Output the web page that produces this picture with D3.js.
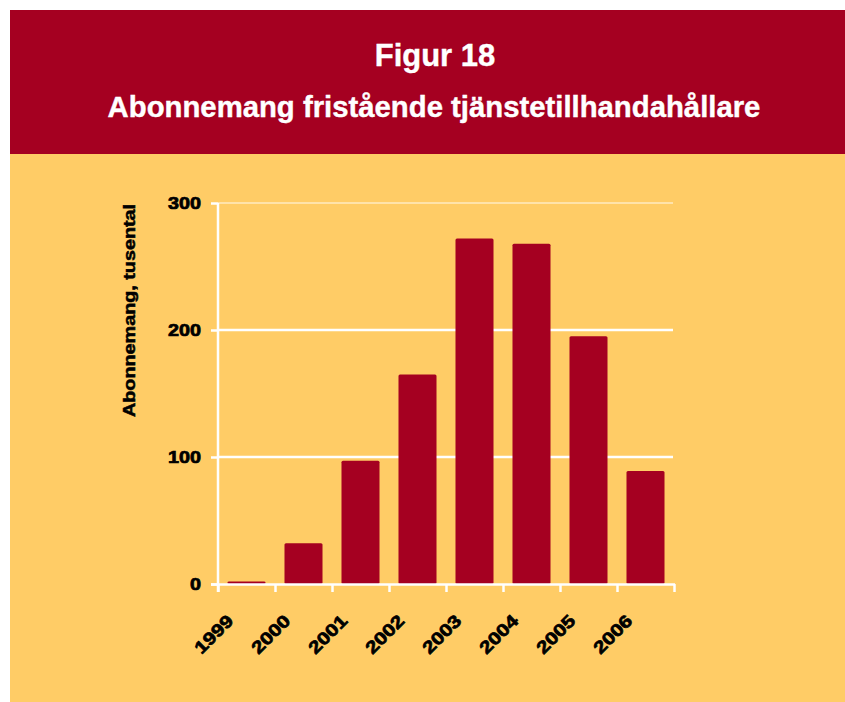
<!DOCTYPE html>
<html>
<head>
<meta charset="utf-8">
<script src="https://cdn.jsdelivr.net/npm/d3@7"></script>
<style>
  body { margin: 0; background: #fff; }
  text { font-family: "Liberation Sans", Arial, sans-serif; font-weight: bold; }
</style>
</head>
<body>
<script>
const w = 845;
const h = 702;

const red = "#a50021";
const yellow = "#ffcc66";

// data (thousands of subscriptions)
const years = ["1999", "2000", "2001", "2002", "2003", "2004", "2005", "2006"];
const values = [2, 32, 97, 165, 272, 268, 195, 89];
const yTicks = [0, 100, 200, 300];

const svg = d3.select("body")
  .append("svg")
  .attr("width", w)
  .attr("height", h);

// header and panel
svg.append("rect")
  .attr("x", 10).attr("y", 10)
  .attr("width", w - 10).attr("height", 144)
  .attr("fill", red);

svg.append("rect")
  .attr("x", 10).attr("y", 154)
  .attr("width", w - 10).attr("height", h - 154)
  .attr("fill", yellow);

svg.append("text")
  .attr("x", 435).attr("y", 66)
  .attr("text-anchor", "middle")
  .attr("fill", "#fff")
  .attr("stroke", "#fff")
  .attr("stroke-width", 0.4)
  .style("font-size", "31px")
  .text("Figur 18");

svg.append("text")
  .attr("x", 434).attr("y", 117)
  .attr("text-anchor", "middle")
  .attr("fill", "#fff")
  .attr("stroke", "#fff")
  .attr("stroke-width", 0.4)
  .style("font-size", "29.3px")
  .text("Abonnemang fristående tjänstetillhandahållare");

// scales
const x = d3.scaleBand()
  .domain(years)
  .range([218, 674])
  .paddingInner(0.333)
  .paddingOuter(0.1665);

const xEdge = d3.scaleLinear()
  .domain([0, years.length])
  .range([218, 674]);

const y = d3.scaleLinear()
  .domain([0, 300])
  .range([584, 203]);

// gridlines
svg.append("g")
  .selectAll("line")
  .data(yTicks.filter(d => d > 0))
  .enter()
  .append("line")
  .attr("x1", 218).attr("x2", 673)
  .attr("y1", d => y(d)).attr("y2", d => y(d))
  .attr("stroke", "#fff")
  .attr("stroke-width", d => d === 300 ? 1.5 : 2.5)
  .attr("stroke-opacity", d => d === 300 ? 0.6 : 1);

// bars
svg.append("g")
  .selectAll("rect")
  .data(values)
  .enter()
  .append("rect")
  .attr("x", (d, i) => x(years[i]))
  .attr("y", d => y(d))
  .attr("width", x.bandwidth())
  .attr("height", d => y(0) - y(d))
  .attr("rx", 1.5)
  .attr("fill", red);

// y axis
const yAxis = svg.append("g")
  .attr("transform", "translate(218,0)")
  .call(d3.axisLeft(y).tickValues(yTicks).tickSize(7).tickPadding(0).tickSizeOuter(0));

yAxis.select(".domain").remove();
yAxis.selectAll(".tick line").attr("stroke", "#fff").attr("stroke-width", 2.5);
yAxis.selectAll(".tick text")
  .attr("x", null)
  .attr("text-anchor", "end")
  .attr("fill", "#000")
  .attr("stroke", "#000")
  .attr("stroke-width", 0.7)
  .attr("transform", "translate(-17,0) scale(1.2,1)")
  .style("font-size", "16.5px");

svg.append("line")
  .attr("x1", 218).attr("x2", 218)
  .attr("y1", y(300)).attr("y2", 592)
  .attr("stroke", "#fff")
  .attr("stroke-width", 2.5);

// x axis: ticks at band edges
const xAxis = svg.append("g")
  .attr("transform", "translate(0,584)")
  .call(d3.axisBottom(xEdge).ticks(years.length).tickSize(8).tickFormat("").tickSizeOuter(0));

xAxis.select(".domain").remove();
xAxis.selectAll(".tick line").attr("stroke", "#fff").attr("stroke-width", 2.5);

svg.append("line")
  .attr("x1", 211).attr("x2", 675)
  .attr("y1", 584.5).attr("y2", 584.5)
  .attr("stroke", "#fff")
  .attr("stroke-width", 2.5);

// year labels
const xLabels = svg.append("g")
  .attr("transform", "translate(0,584)")
  .call(d3.axisBottom(x).tickSize(0).tickSizeOuter(0));

xLabels.select(".domain").remove();
xLabels.selectAll(".tick text")
  .attr("y", 0)
  .attr("dy", 0)
  .attr("text-anchor", "end")
  .attr("fill", "#000")
  .attr("stroke", "#000")
  .attr("stroke-width", 0.7)
  .attr("transform", "translate(-12,38) rotate(-45) scale(1.2,1)")
  .style("font-size", "17.5px");

// y axis title
svg.append("text")
  .attr("transform", "translate(135.4,310.5) rotate(-90)")
  .attr("text-anchor", "middle")
  .attr("fill", "#000")
  .attr("stroke", "#000")
  .attr("stroke-width", 0.5)
  .attr("textLength", 213)
  .attr("lengthAdjust", "spacingAndGlyphs")
  .style("font-size", "15.8px")
  .text("Abonnemang, tusental");
</script>
</body>
</html>
